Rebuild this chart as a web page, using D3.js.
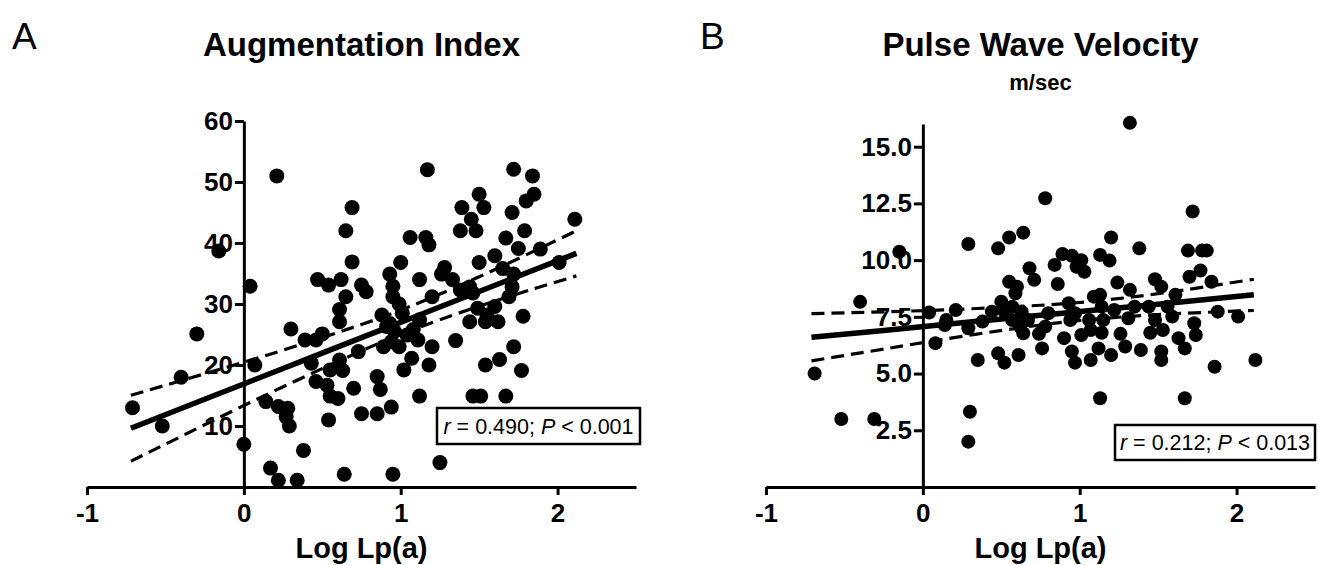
<!DOCTYPE html>
<html>
<head>
<meta charset="utf-8">
<script src="https://cdn.jsdelivr.net/npm/d3@7"></script>
<style>
  body { margin: 0; background: #fff; }
  svg { display: block; font-family: "Liberation Sans", Arial, sans-serif; }
</style>
</head>
<body>
<div id="chart"></div>
<script>
// ---- data ----
var xTicks = [-1, 0, 1, 2];

// Panel A: augmentation index vs log Lp(a)
var aiX = [0.21, 1.17, 1.72, 1.84, 1.50, 1.85, 1.80, 0.69, 1.39, 1.53, 1.71, 1.45, 2.11, 0.65, 1.38, 1.48, 1.79, 1.06, 1.16, 1.18,
           1.67, 1.75, 1.89, 0.69, 1.00, 1.50, 1.60, 2.01, 1.28, 0.47, 0.54, 0.62, 0.75, 0.78, 0.93, 0.95, 1.12, 1.26, 1.33, 1.44,
           1.65, 1.72, 1.71, 0.04, 0.65, 0.61, 0.61, 0.95, 0.99, 1.20, 1.38, 1.46, 1.69, 0.88, 0.93, 1.01, 1.12, 1.08, 0.96, 1.49,
           1.55, 1.60, 1.44, 1.54, 1.62, 1.78, 0.30, 0.39, 0.50, 0.46, 0.07, 0.43, 0.61, 0.73, 0.89, 0.99, 1.11, 1.20, 1.35, 1.72,
           1.07, 1.02, 1.18, 1.54, 1.63, 0.55, 0.63, 0.46, 0.53, 0.55, 0.60, 0.70, 0.85, 0.87, 1.12, 1.46, 1.51, 1.67, 1.77, 0.14,
           0.22, 0.28, 0.29, 0.27, 0.54, 0.75, 0.85, 0.94, 0.00, 0.38, 0.17, 0.22, 0.34, 0.64, 0.95, 1.25, -0.16, -0.30, -0.40, -0.71,
           -0.52, 0.91, 1.04, 0.94];
var aiY = [51.0, 52.0, 52.1, 51.0, 48.0, 48.0, 46.9, 45.8, 45.8, 45.8, 45.0, 43.9, 43.9, 42.0, 42.0, 42.0, 42.0, 40.9, 40.9, 39.7,
           40.8, 39.1, 39.0, 36.9, 36.8, 36.8, 37.9, 36.8, 36.0, 34.0, 33.1, 34.0, 33.1, 32.0, 34.9, 32.9, 34.0, 34.9, 34.0, 32.8,
           35.8, 34.9, 32.8, 32.9, 31.2, 29.1, 27.1, 31.2, 30.0, 31.2, 32.3, 31.8, 31.2, 28.2, 26.8, 28.5, 27.4, 25.8, 25.5, 29.3,
           28.2, 29.6, 27.1, 27.1, 27.1, 28.0, 25.9, 24.1, 25.1, 24.1, 20.0, 20.3, 20.8, 22.2, 23.0, 23.0, 24.1, 23.0, 24.0, 23.0,
           21.1, 19.2, 20.0, 20.0, 20.9, 19.2, 19.1, 17.3, 16.7, 14.9, 14.5, 16.2, 18.1, 16.0, 14.9, 14.9, 14.9, 14.9, 19.1, 14.0,
           13.2, 12.9, 10.0, 11.5, 11.0, 12.0, 12.0, 13.1, 7.0, 6.0, 3.1, 1.1, 1.1, 2.1, 2.1, 4.0, 38.7, 25.1, 18.0, 13.0,
           10.0, 26.3, 24.9, 23.8];
var aiTicks = [10, 20, 30, 40, 50, 60];
// regression line with 95% band
var aiFitX   = [-0.72, -0.25, 0.25, 0.75, 1.05, 1.50, 2.12];
var aiFit    = [9.63, 14.38, 19.43, 24.48, 27.50, 32.05, 38.31];
var aiUpper  = [15.03, 18.56, 22.43, 26.64, 29.50, 34.46, 42.01];
var aiLower  = [4.23, 10.20, 16.43, 22.32, 25.50, 29.64, 34.61];

// Panel B: pulse wave velocity vs log Lp(a)
var pwvX = [0.78, 1.72, 1.32, 0.29, 0.48, 0.55, 0.64, 1.20, 1.38, 1.69, 1.78, 1.81, 1.13, 1.19, 0.89, 0.95, 1.01, 0.84, 0.98, 1.03,
            0.68, 0.71, 0.55, 1.77, 1.70, 1.84, 0.86, 1.24, 1.32, 1.48, 1.52, 1.61, 1.09, 1.13, 0.93, 0.59, 0.50, 0.63, 0.44, 0.04,
            0.21, 0.15, 0.29, 0.38, 0.08, 0.35, 0.48, 0.52, 0.61, 0.62, 0.64, 0.74, 0.76, 0.78, 0.90, 0.94, 0.95, 0.97, 1.01, 1.07,
            1.12, 1.20, 1.26, 1.29, 1.39, 1.45, 1.53, 1.52, 1.52, 1.63, 1.67, 1.73, 1.74, 1.88, 2.01, 2.12, 1.86, 0.30, 1.13, 1.67,
            0.29, 1.14, 1.22, 1.35, 1.44, 1.56, 1.59, 1.48, 1.31, 1.06, 0.97, 0.80, 0.67, 0.57, 0.52, 1.07, 1.15, -0.15, -0.40, 0.14,
            -0.69, -0.52, -0.31, 0.60, 0.57, 1.14];
var pwvY = [12.73, 12.14, 16.05, 10.71, 10.52, 11.00, 11.21, 11.00, 10.52, 10.42, 10.42, 10.42, 10.23, 9.98, 10.27, 10.19, 10.00, 9.79, 9.71, 9.49,
            9.64, 9.13, 9.05, 9.54, 9.27, 9.05, 8.95, 9.01, 8.69, 9.16, 8.83, 8.47, 8.39, 8.47, 8.10, 8.54, 8.17, 7.73, 7.73, 7.69,
            7.80, 7.36, 7.00, 7.29, 6.34, 5.60, 5.89, 5.48, 5.82, 7.07, 6.78, 6.75, 6.11, 7.07, 6.56, 7.36, 5.97, 5.48, 6.70, 5.60,
            6.11, 5.82, 6.75, 6.19, 6.04, 6.80, 6.92, 5.97, 5.60, 6.56, 6.11, 7.22, 6.70, 7.73, 7.51, 5.60, 5.30, 3.32, 3.91, 3.91,
            2.00, 7.95, 7.80, 7.95, 7.95, 7.95, 7.51, 7.36, 7.44, 7.36, 7.66, 7.66, 7.36, 7.95, 7.73, 6.92, 7.36, 10.37, 8.16, 7.14,
            5.00, 3.00, 3.00, 8.83, 7.36, 6.80];
var pwvTicks = [2.5, 5.0, 7.5, 10.0, 12.5, 15.0];
var pwvFitX  = [-0.71, -0.25, 0.25, 0.75, 1.07, 1.50, 2.11];
var pwvFit   = [6.60, 6.90, 7.24, 7.57, 7.78, 8.06, 8.47];
var pwvUpper = [7.64, 7.72, 7.84, 8.01, 8.18, 8.52, 9.16];
var pwvLower = [5.56, 6.08, 6.64, 7.14, 7.38, 7.60, 7.78];

var svg = d3.select("#chart").append("svg")
            .attr("width", 1318)
            .attr("height", 565);

function drawPanel(p) {
    var g = svg.append("g");

    var xScale = d3.scaleLinear().domain([-1, 2.5]).range([p.left, p.right]);
    var yScale = d3.scaleLinear().domain([0, p.yMax]).range([487, p.top]);
    var mid = (p.left + p.right) / 2;

    // axes
    g.append("g")
     .attr("transform", "translate(0,487)")
     .call(d3.axisBottom(xScale)
             .tickValues(xTicks)
             .tickFormat(d => String(d))
             .tickSize(8)
             .tickSizeOuter(0)
             .tickPadding(9));

    g.append("g")
     .attr("transform", "translate(" + xScale(0) + ",0)")
     .call(d3.axisLeft(yScale)
             .tickValues(p.yTicks)
             .tickFormat(p.fmt)
             .tickSize(9)
             .tickSizeOuter(0)
             .tickPadding(2));

    g.selectAll(".domain, .tick line").attr("stroke", "#000").attr("stroke-width", 3);
    g.selectAll(".tick text")
     .attr("fill", "#000")
     .style("font-size", "26px")
     .style("font-weight", "bold");

    // points
    g.append("g").selectAll("circle")
     .data(p.xs.map((x, i) => [x, p.ys[i]]))
     .enter().append("circle")
     .attr("cx", d => xScale(d[0]))
     .attr("cy", d => yScale(d[1]))
     .attr("r", p.r)
     .attr("fill", "#000");

    // regression + confidence band
    var line = d3.line().curve(d3.curveNatural)
                 .x((d, i) => xScale(p.fitX[i]))
                 .y(d => yScale(d));

    g.append("path").attr("d", line(p.fit))
     .attr("fill", "none").attr("stroke", "#000").attr("stroke-width", 5.5);

    [p.upper, p.lower].forEach(function(band) {
        g.append("path").attr("d", line(band))
         .attr("fill", "none").attr("stroke", "#000")
         .attr("stroke-width", 3.2)
         .attr("stroke-dasharray", "13,7");
    });

    // titles
    g.append("text")
     .attr("x", p.letterX).attr("y", 49)
     .style("font-size", "37px")
     .text(p.letter);

    g.append("text")
     .attr("x", mid).attr("y", 56)
     .attr("text-anchor", "middle")
     .style("font-size", "33px").style("font-weight", "bold")
     .text(p.title);

    if (p.sub) {
        g.append("text")
         .attr("x", mid).attr("y", 90)
         .attr("text-anchor", "middle")
         .style("font-size", "22px").style("font-weight", "bold")
         .text(p.sub);
    }

    g.append("text")
     .attr("x", mid).attr("y", 558)
     .attr("text-anchor", "middle")
     .style("font-size", "29px").style("font-weight", "bold")
     .text("Log Lp(a)");

    // stats box
    var box = g.append("g").attr("transform", "translate(" + p.box[0] + "," + p.box[1] + ")");
    box.append("rect")
       .attr("width", p.box[2]).attr("height", p.box[3])
       .attr("fill", "#fff").attr("stroke", "#000").attr("stroke-width", 2.5);
    var t = box.append("text")
               .attr("x", p.box[2] / 2).attr("y", p.box[3] / 2 + 7.5)
               .attr("text-anchor", "middle")
               .style("font-size", "21.5px");
    t.append("tspan").style("font-style", "italic").text("r");
    t.append("tspan").text(" = " + p.r0 + "; ");
    t.append("tspan").style("font-style", "italic").text("P");
    t.append("tspan").text(" < " + p.pval);
}

drawPanel({
    left: 87, right: 636, top: 121, yMax: 60,
    yTicks: aiTicks, fmt: d3.format("d"),
    xs: aiX, ys: aiY, r: 7.5,
    fitX: aiFitX, fit: aiFit, upper: aiUpper, lower: aiLower,
    letter: "A", letterX: 12, title: "Augmentation Index",
    box: [437, 408, 203, 36], r0: "0.490", pval: "0.001"
});

drawPanel({
    left: 766, right: 1315, top: 124, yMax: 16,
    yTicks: pwvTicks, fmt: d3.format(".1f"),
    xs: pwvX, ys: pwvY, r: 7,
    fitX: pwvFitX, fit: pwvFit, upper: pwvUpper, lower: pwvLower,
    letter: "B", letterX: 700, title: "Pulse Wave Velocity", sub: "m/sec",
    box: [1115, 425, 200, 35], r0: "0.212", pval: "0.013"
});
</script>
</body>
</html>
